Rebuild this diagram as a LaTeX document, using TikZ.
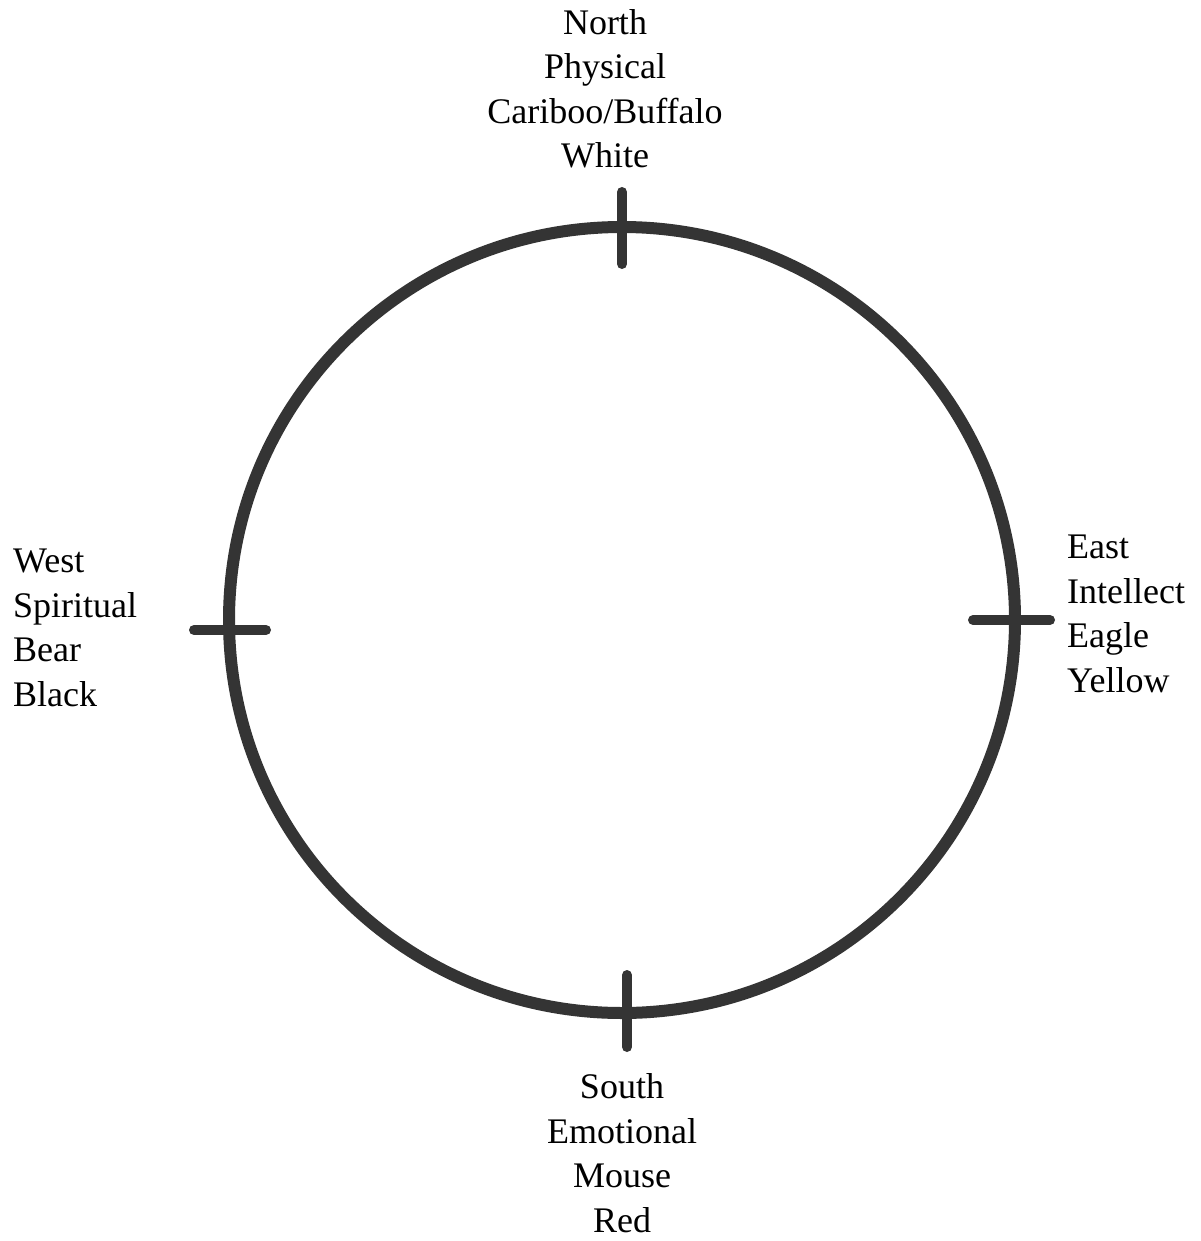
\documentclass[tikz,border=0pt]{standalone}
\usepackage{fontspec}
\setmainfont{Liberation Serif}
\definecolor{ink}{RGB}{52,52,52}
\begin{document}
\begin{tikzpicture}[x=1pt,y=-1pt,
  ring/.style={draw=ink,line width=12pt},
  tick/.style={draw=ink,line width=10pt,line cap=round},
  lab/.style={inner sep=0pt,font=\fontsize{36}{44.5}\selectfont,text=black}]
\useasboundingbox[fill=white] (0,0) rectangle (1200,1241);
\coordinate (c) at (622,620);
\draw[ring] (c) circle[radius=393];
% ticks
\coordinate (n1) at (622,192); \coordinate (n2) at (622,264);
\coordinate (s1) at (627,975); \coordinate (s2) at (627,1047);
\coordinate (w1) at (194,630); \coordinate (w2) at (266,630);
\coordinate (e1) at (973,620); \coordinate (e2) at (1050,620);
\draw[tick] (n1) -- (n2);
\draw[tick] (s1) -- (s2);
\draw[tick] (w1) -- (w2);
\draw[tick] (e1) -- (e2);
% labels (anchor base = baseline of the last line)
\node[lab,align=center,anchor=base] (north) at (605,168) {North\\Physical\\Cariboo/Buffalo\\White};
\node[lab,align=center,anchor=base] (south) at (622,1232) {South\\Emotional\\Mouse\\Red};
\node[lab,align=left,anchor=base west] (west) at (13,706) {West\\Spiritual\\Bear\\Black};
\node[lab,align=left,anchor=base west] (east) at (1067,692) {East\\Intellect\\Eagle\\Yellow};
\end{tikzpicture}
\end{document}
